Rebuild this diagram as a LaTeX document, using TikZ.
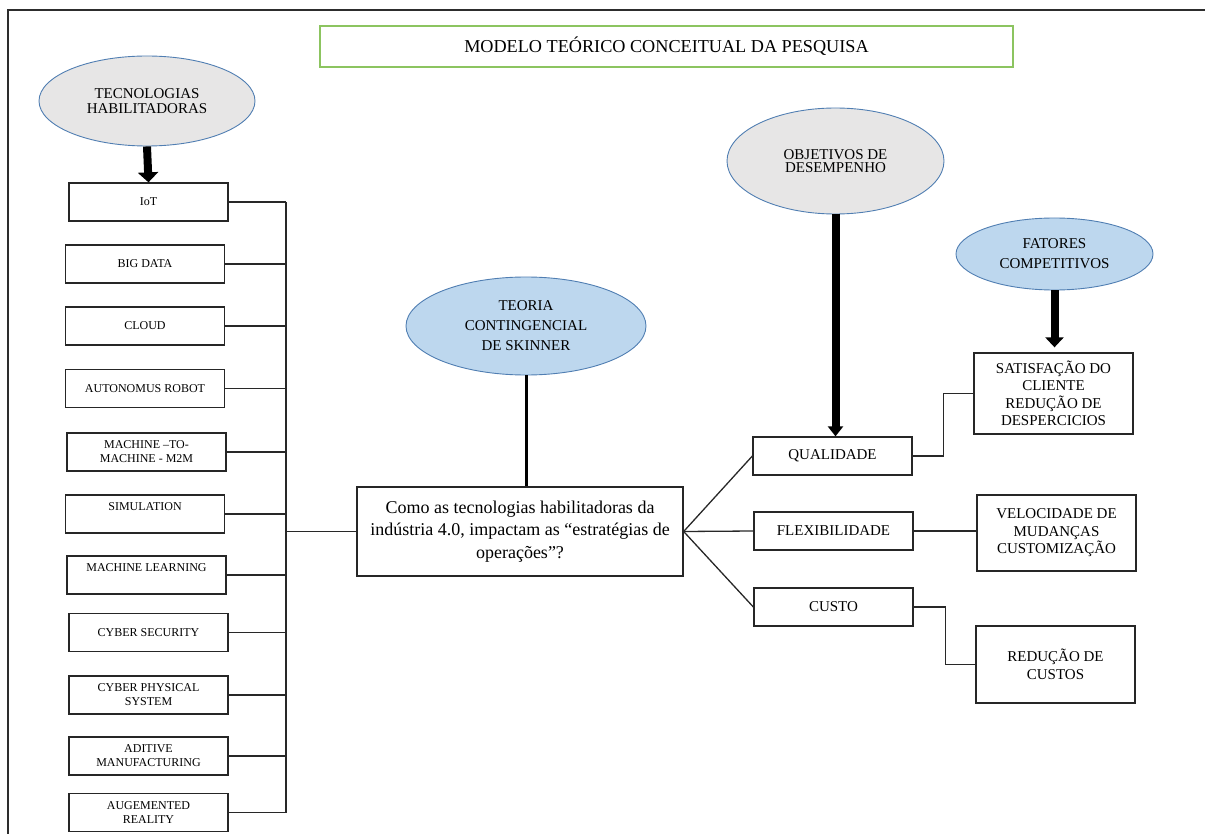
\documentclass[tikz,border=0pt]{standalone}
\usepackage{fontspec}
\setmainfont{Liberation Serif}
\usetikzlibrary{shapes.geometric,arrows.meta}

\definecolor{ovalgray}{RGB}{231,230,230}
\definecolor{ovalblue}{RGB}{189,215,238}
\definecolor{ovalline}{RGB}{80,126,178}
\definecolor{titlegreen}{RGB}{140,196,96}
\definecolor{frameline}{RGB}{45,45,45}
\definecolor{linkgray}{RGB}{40,40,40}

\tikzset{
  techbox/.style={draw=black!85, line width=1.3pt, rectangle, inner sep=0pt,
    minimum width=159pt, minimum height=38pt, align=center,
    font=\fontsize{12}{14}\selectfont},
  goalbox/.style={draw=black!85, line width=1.3pt, rectangle, inner sep=0pt,
    minimum width=159pt, minimum height=38pt, align=center,
    font=\fontsize{15}{17.5}\selectfont},
  oval/.style={ellipse, draw=ovalline, line width=0.9pt, inner sep=0pt,
    align=center},
  link/.style={draw=linkgray, line width=1.3pt},
  bigarrow/.style={draw=black, line width=8pt},
}

\begin{document}
\begin{tikzpicture}[x=1pt, y=-1pt]
  \useasboundingbox (0,0) rectangle (1205,834);

  % page frame (top and left rules)
  \draw[frameline, line width=2pt] (8,834) -- (8,10) -- (1205,10);

  % heading
  \node[draw=titlegreen, line width=1.2pt, minimum width=693pt, minimum height=41pt,
        inner sep=0pt, font=\fontsize{18.2}{20}\selectfont] (title) at (666.5,46.5)
        {MODELO TEÓRICO CONCEITUAL DA PESQUISA};

  % enabling technologies
  \node[oval, fill=ovalgray, minimum width=216pt, minimum height=90pt,
        font=\fontsize{15}{15}\selectfont] (tec) at (147,101)
        {TECNOLOGIAS\\HABILITADORAS};

  \node[techbox] (iot)  at (148.5,202)   {IoT};
  \node[techbox] (big)  at (145,264)     {BIG DATA};
  \node[techbox] (cld)  at (145,326)     {CLOUD};
  \node[techbox] (aut)  at (145,388.5)   {AUTONOMUS ROBOT};
  \node[techbox] (m2m)  at (146.5,452)   {MACHINE –TO-\\MACHINE - M2M};
  \node[techbox] (sim)  at (145,514)     {SIMULATION\\\mbox{}};
  \node[techbox] (ml)   at (146.5,575)   {MACHINE LEARNING\\\mbox{}};
  \node[techbox] (cys)  at (148.5,632.5) {CYBER SECURITY};
  \node[techbox] (cps)  at (148.5,695)   {CYBER PHYSICAL\\SYSTEM};
  \node[techbox] (adm)  at (148.5,756)   {ADITIVE\\MANUFACTURING};
  \node[techbox] (aug)  at (148.5,812.5) {AUGEMENTED\\REALITY};

  \draw[bigarrow, -{Triangle[length=10pt,width=20pt]}] (tec.south) -- (iot.north);

  % research question
  \node[draw=black!85, line width=1.3pt, minimum width=326pt, minimum height=89pt,
        inner sep=0pt, align=center, font=\fontsize{18}{22.5}\selectfont] (q) at (520,531.5)
        {Como as tecnologias habilitadoras da\\indústria 4.0, impactam as “estratégias de\\operações”?};

  % collecting bus from the technologies
  \coordinate (bus) at (286,0);
  \foreach \b in {iot,big,cld,aut,m2m,sim,ml,cys,cps,adm,aug}
    \draw[link] (\b.east) -- (\b.east -| bus);
  \draw[link] (iot.east -| bus) -- (aug.east -| bus);
  \draw[link] (q.west -| bus) -- (q.west);

  % contingency theory
  \node[oval, fill=ovalblue, minimum width=240pt, minimum height=98pt,
        font=\fontsize{15}{20}\selectfont] (teo) at (526,326)
        {TEORIA\\CONTINGENCIAL\\DE SKINNER};
  \draw[black, line width=3pt] (teo.south) -- (teo.south |- q.north);

  % performance objectives
  \node[oval, fill=ovalgray, minimum width=217pt, minimum height=106pt,
        font=\fontsize{15}{13}\selectfont] (obj) at (835.5,161)
        {OBJETIVOS DE\\DESEMPENHO};

  \node[goalbox] (qual)  at (832.5,456) {QUALIDADE};
  \node[goalbox] (flex)  at (833.5,531) {FLEXIBILIDADE};
  \node[goalbox] (custo) at (833.5,607) {CUSTO};

  \draw[bigarrow, -{Triangle[length=10pt,width=15pt]}] (obj.south) -- (obj.south |- qual.north);

  \draw[link] (q.east) -- (qual.west);
  \draw[link] (q.east) -- (flex.west);
  \draw[link] (q.east) -- (custo.west);

  % competitive factors
  \node[oval, fill=ovalblue, minimum width=197pt, minimum height=72pt,
        font=\fontsize{15}{20}\selectfont] (fat) at (1054.5,254)
        {FATORES\\COMPETITIVOS};

  \node[goalbox, minimum height=81pt] (sat) at (1053.5,393.5)
        {SATISFAÇÃO DO\\CLIENTE\\REDUÇÃO DE\\DESPERCICIOS};
  \node[goalbox, minimum height=76pt] (vel) at (1056.5,533)
        {VELOCIDADE DE\\MUDANÇAS\\CUSTOMIZAÇÃO};
  \node[goalbox, minimum height=77pt] (red) at (1055.5,664.5)
        {REDUÇÃO DE\\CUSTOS};

  \draw[bigarrow, -{Triangle[length=10pt,width=18pt]}, shorten >=5pt]
        (fat.south) -- (fat.south |- sat.north);

  \draw[link] (qual.east) -- ++(31,0) |- (sat.west);
  \draw[link] (flex.east) -- (flex.east -| vel.west);
  \draw[link] (custo.east) -- ++(32,0) |- (red.west);
\end{tikzpicture}
\end{document}
